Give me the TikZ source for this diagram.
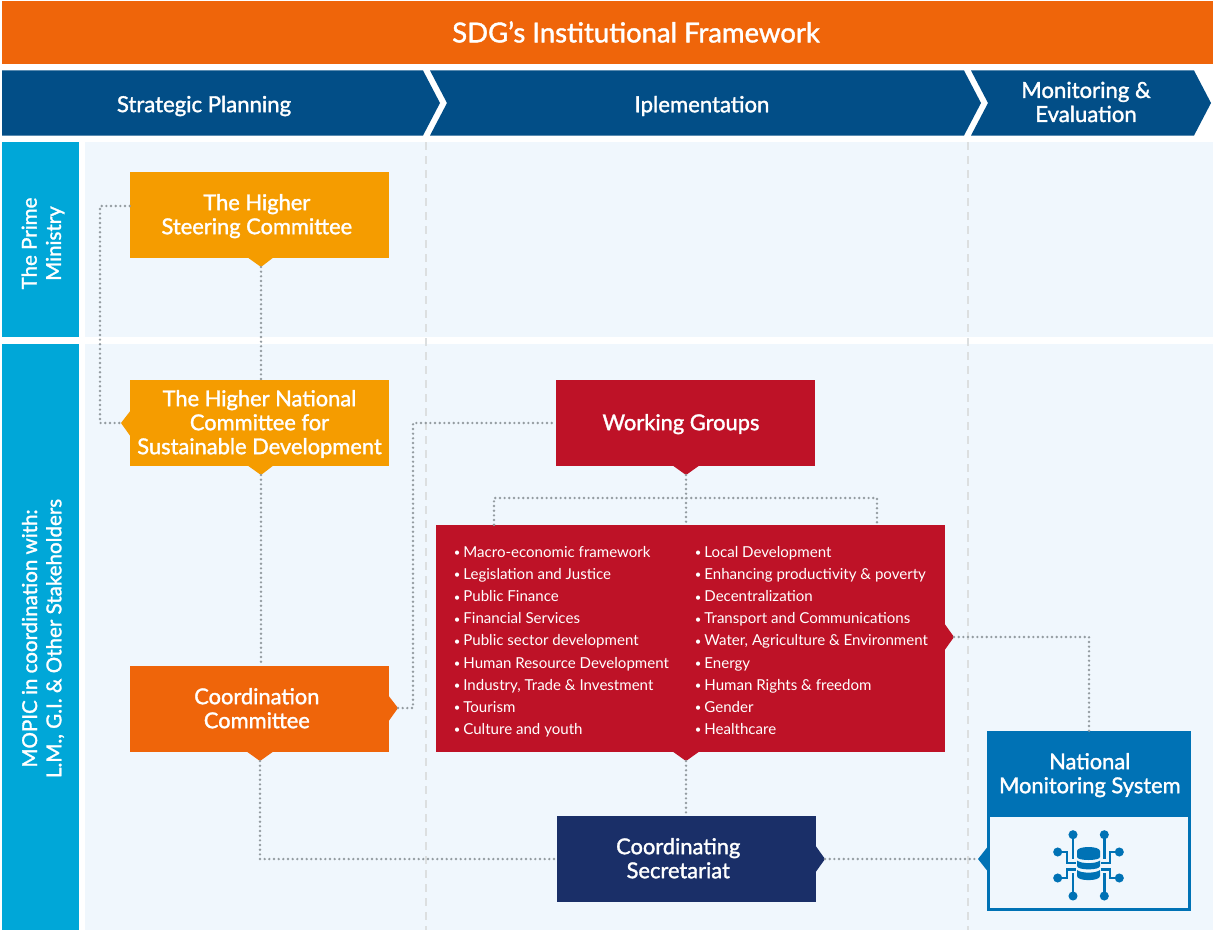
\documentclass[tikz,border=0pt]{standalone}
\usepackage{fontspec}
\setmainfont{Lato}
\newfontfamily\semi[FakeBold=1.5]{Lato}
\definecolor{cOrange}{HTML}{EF650A}
\definecolor{cChev}{HTML}{024E87}
\definecolor{cCyan}{HTML}{00A7D8}
\definecolor{cAmber}{HTML}{F59C00}
\definecolor{cRed}{HTML}{BE1227}
\definecolor{cNavy}{HTML}{1A2F68}
\definecolor{cBlue}{HTML}{0072B5}
\definecolor{cPanel}{HTML}{F0F7FD}
\definecolor{cDot}{HTML}{949CA1}
\definecolor{cDash}{HTML}{DCDFE0}
\newcommand{\down}[1]{\vbox{\kern3.6pt\hbox{#1}}}
\newcommand{\twolines}[3]{\down{\kern#1pt{\begin{tabular}{@{}c@{}}#2\\#3\end{tabular}}\kern-#1pt}}
\newcommand{\threelines}[4]{\down{\kern#1pt{\begin{tabular}{@{}c@{}}#2\\#3\\#4\end{tabular}}\kern-#1pt}}
\newcommand{\itm}[1]{\makebox[7.2pt][l]{\raisebox{0.4pt}{\scalebox{0.75}{•}}}#1\\}
\tikzset{
  box/.style={inner sep=0pt,text=white,minimum width=194.25pt,minimum height=64.5pt,font=\semi\fontsize{16.4}{18}\selectfont},
  dotline/.style={draw=cDot,line width=2pt,line cap=round,dash pattern=on 0pt off 3.5pt},
  dashline/.style={draw=cDash,line width=1.2pt,dash pattern=on 6pt off 4.5pt},
  stage/.style={text=white,inner sep=0pt,align=center,font=\semi\fontsize{16.6}{18}\selectfont},
  side/.style={text=white,inner sep=0pt,align=center,rotate=90,font=\semi\fontsize{15.4}{18.2}\selectfont},
  listtext/.style={text=white,inner sep=0pt,anchor=north west,align=left,font=\fontsize{11.3}{16.6}\selectfont},
  wire/.style={draw=cBlue,line width=1.8pt}
}
\begin{document}
\begin{tikzpicture}[x=0.75pt,y=-0.75pt]
\useasboundingbox (0,0) rectangle (1213,931);
\fill[white] (0,0) rectangle (1213,931);
% title
\fill[cOrange] (2,1) rectangle (1213,64);
\node[text=white,inner sep=0pt,font=\semi\fontsize{20.6}{24}\selectfont] (title) at (636,32) {SDG’s Institutional Framework};
% chevrons
\fill[cChev] (2,70.5) -- (423,70.5) -- (440,103) -- (423,135.5) -- (2,135.5) -- cycle;
\fill[cChev] (430,70.5) -- (964,70.5) -- (981,103) -- (964,135.5) -- (430,135.5) -- (447,103) -- cycle;
\fill[cChev] (971,70.5) -- (1194,70.5) -- (1211,103) -- (1194,135.5) -- (971,135.5) -- (988,103) -- cycle;
\node[stage] (sp) at (204,106) {Strategic Planning};
\node[stage] (im) at (702,106) {Iplementation};
\node[stage] (me) at (1086,102) {Monitoring \&\\Evaluation};
% panels
\fill[cCyan] (2,142) rectangle (79,337);
\fill[cCyan] (2,344) rectangle (79,930);
\fill[cPanel] (85,142) rectangle (1213,337);
\fill[cPanel] (85,344) rectangle (1213,930);
\node[side] (pm) at (43,243.5) {The Prime\\Ministry};
\node[side] (mo) at (43,638.5) {MOPIC in coordination with:\\L.M., G.I. \& Other Stakeholders};
\draw[dashline] (426,142) -- (426,930);
\draw[dashline] (968,142) -- (968,930);
% boxes
\node[inner sep=0pt,minimum width=150.75pt,minimum height=85pt,draw=cBlue,line width=2.2pt,anchor=south] (nb) at (1089,911) {};
\node[box,fill=cAmber] (hsc) at (259.5,215) {\twolines{-2}{The Higher}{Steering Committee}};
\node[box,fill=cAmber] (hn) at (259.5,423) {\threelines{0}{The Higher National}{Committee for}{Sustainable Development}};
\node[box,fill=cOrange] (cc) at (259.5,709) {\twolines{-2}{Coordination}{Committee}};
\node[box,fill=cRed] (wg) at (685.5,423) {\twolines{-3.4}{Working Groups}{}};
\node[box,fill=cRed,minimum width=381.75pt,minimum height=170.25pt] (sect) at (690.5,638.5) {};
\node[box,fill=cNavy] (cs) at (686.5,859) {\twolines{-6.2}{Coordinating}{Secretariat}};
\node[box,fill=cBlue,minimum width=153pt] (nms) at (1089,774) {\twolines{0.6}{National}{Monitoring System}};
% pointers
\coordinate (hscT) at (261,267);
\coordinate (hnL) at (121,423);
\coordinate (hnB) at (261,475);
\coordinate (ccR) at (398,708);
\coordinate (ccB) at (260,761);
\coordinate (wgB) at (686,475);
\coordinate (seR) at (954,637);
\coordinate (seB) at (686,761);
\coordinate (csR) at (825,859);
\coordinate (nbL) at (978,859);
\fill[cAmber] (247,257) -- (274,257) -- (hscT) -- cycle;
\fill[cAmber] (131,410) -- (131,437) -- (hnL) -- cycle;
\fill[cAmber] (247,465) -- (274,465) -- (hnB) -- cycle;
\fill[cOrange] (388,695) -- (388,722) -- (ccR) -- cycle;
\fill[cOrange] (246,751) -- (274,751) -- (ccB) -- cycle;
\fill[cRed] (672,465) -- (700,465) -- (wgB) -- cycle;
\fill[cRed] (944,623) -- (944,651) -- (seR) -- cycle;
\fill[cRed] (672,751) -- (700,751) -- (seB) -- cycle;
\fill[cNavy] (815,845) -- (815,873) -- (csR) -- cycle;
\fill[cBlue] (989,845) -- (989,873) -- (nbL) -- cycle;
% bends
\coordinate (b1) at (100,206);
\coordinate (b2) at (100,423);
\coordinate (b3) at (413,708);
\coordinate (b4) at (413,423);
\coordinate (jm) at (686,498);
\coordinate (jl) at (494,498);
\coordinate (jr) at (877,498);
\coordinate (b5) at (1089,637);
\coordinate (b6) at (260,859);
% connectors
\draw[dotline] (hsc.west |- b1) -- (b1) -- (b2) -- (hnL);
\draw[dotline] (hscT) -- (hscT |- hn.north);
\draw[dotline] (hnB) -- (hnB |- cc.north);
\draw[dotline] (ccR) -- (b3) -- (b4) -- (wg.west);
\draw[dotline] (wgB) -- (jm) -- (jm |- sect.north);
\draw[dotline] (jl |- sect.north) -- (jl) -- (jr) -- (jr |- sect.north);
\draw[dotline] (seR) -- (b5) -- (b5 |- nms.north);
\draw[dotline] (seB) -- (seB |- cs.north);
\draw[dotline] (ccB) -- (b6) -- (cs.west);
\draw[dotline] (csR) -- (nbL);
% list
\node[listtext] (la) at (453.5,546) {\itm{Macro-economic framework}\itm{Legislation and Justice}\itm{Public Finance}\itm{Financial Services}\itm{Public sector development}\itm{Human Resource Development}\itm{Industry, Trade \& Investment}\itm{Tourism}\itm{Culture and youth}};
\node[listtext] (lb) at (694.5,546) {\itm{Local Development}\itm{Enhancing productivity \& poverty}\itm{Decentralization}\itm{Transport and Communications}\itm{Water, Agriculture \& Environment}\itm{Energy}\itm{Human Rights \& freedom}\itm{Gender}\itm{Healthcare}};
% icon
\foreach \p in {(1073,834.7),(1104.3,834.7),(1057.7,852),(1119.3,852),(1057.7,878),(1119.3,878),(1073,896),(1104.3,896)}
  \fill[cBlue] \p circle[radius=3.4pt];
\draw[wire] (1073,834.7) -- (1073,859);
\draw[wire] (1104.3,834.7) -- (1104.3,859);
\draw[wire] (1073,896) -- (1073,873);
\draw[wire] (1104.3,896) -- (1104.3,873);
\draw[wire] (1057.7,852) -- (1067,852) -- (1067,862.7) -- (1076,862.7);
\draw[wire] (1057.7,878) -- (1067,878) -- (1067,869.3) -- (1076,869.3);
\draw[wire] (1119.3,852) -- (1110,852) -- (1110,862.7) -- (1101,862.7);
\draw[wire] (1119.3,878) -- (1110,878) -- (1110,869.3) -- (1101,869.3);
\fill[cBlue] (1077,851) .. controls (1077,845.7) and (1100,845.7) .. (1100,851) -- (1100,857) .. controls (1100,861) and (1077,861) .. (1077,857) -- cycle;
\fill[cBlue] (1077,860.5) .. controls (1081,864) and (1096,864) .. (1100,860.5) -- (1100,866) .. controls (1100,870.5) and (1077,870.5) .. (1077,866) -- cycle;
\fill[cBlue] (1077,870) .. controls (1081,873.5) and (1096,873.5) .. (1100,870) -- (1100,876) .. controls (1100,881.5) and (1077,881.5) .. (1077,876) -- cycle;
\end{tikzpicture}
\end{document}
